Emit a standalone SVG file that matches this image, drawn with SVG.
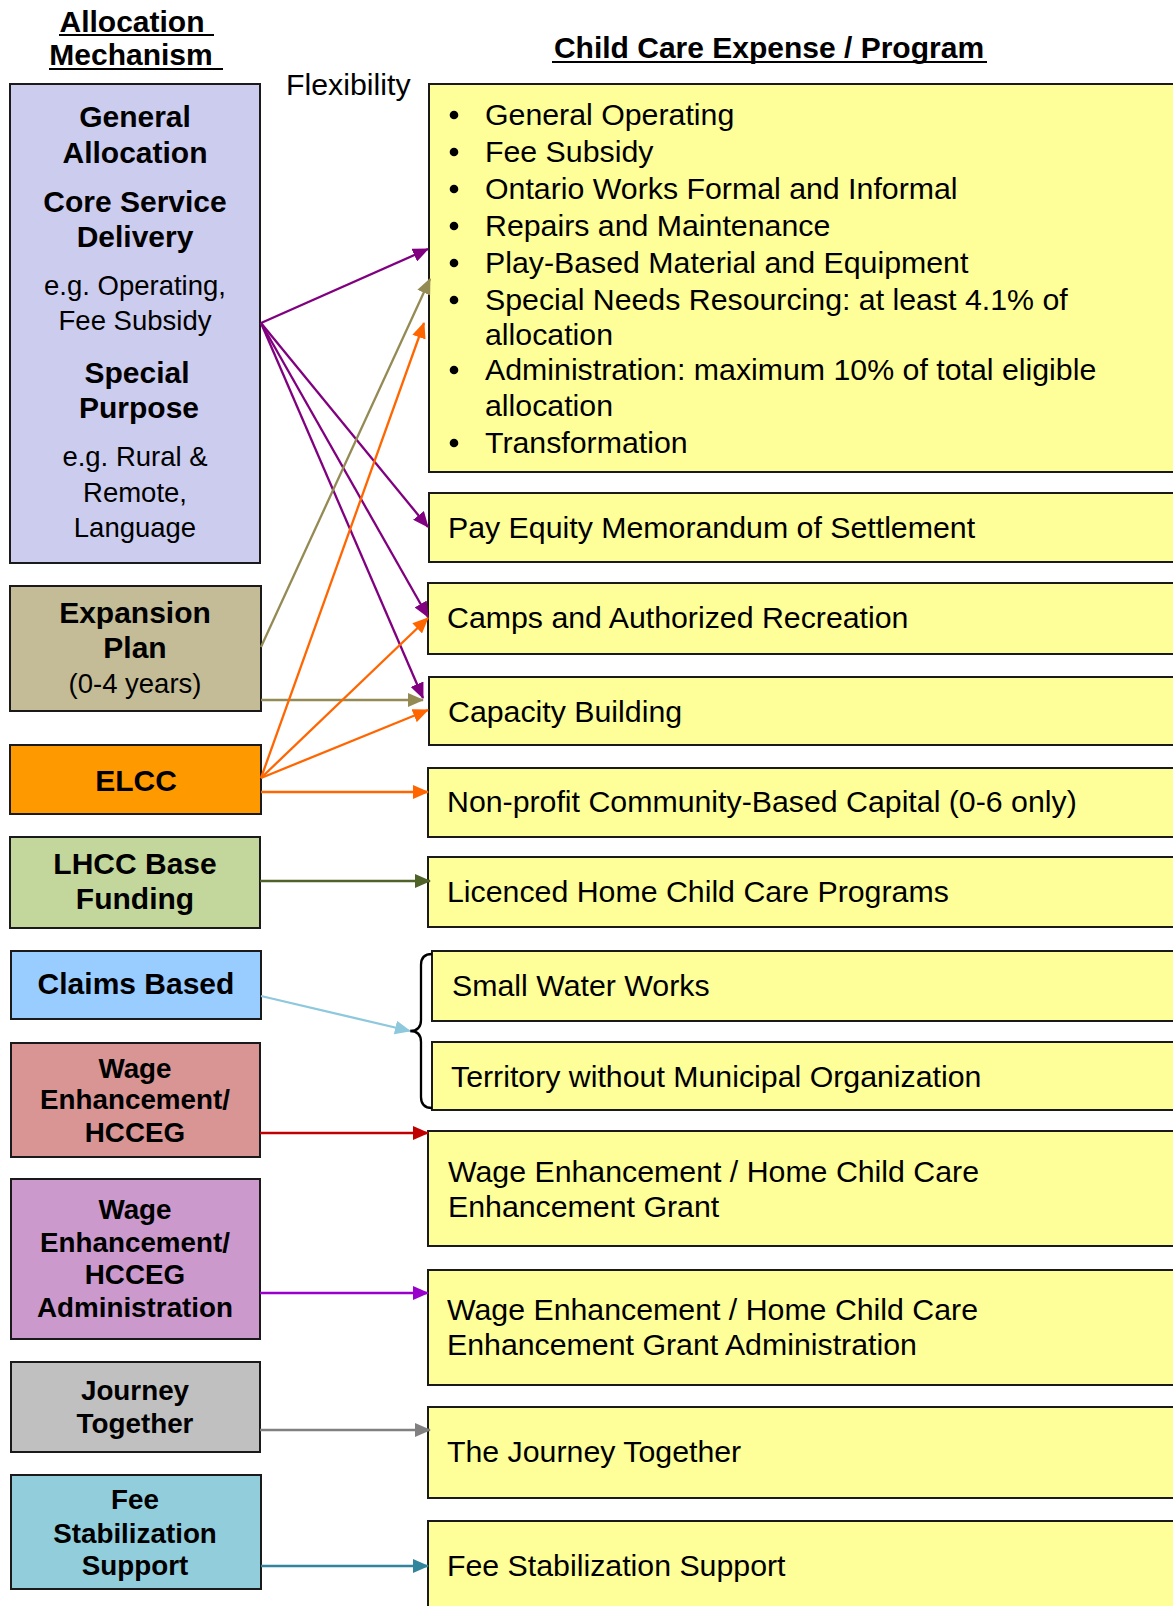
<svg xmlns="http://www.w3.org/2000/svg" width="1173" height="1606" viewBox="0 0 1173 1606">
<style>
.bg{fill:#ffffff}
.box{stroke:#1a1a1a;stroke-width:2}
.y{fill:#FFFF99}
.hd{font-family:"Liberation Sans",Arial,sans-serif;font-weight:bold;font-size:30px;fill:#000}
.b30{font-family:"Liberation Sans",Arial,sans-serif;font-weight:bold;font-size:30px;fill:#000;text-anchor:middle}
.b28{font-family:"Liberation Sans",Arial,sans-serif;font-weight:bold;font-size:27.8px;fill:#000;text-anchor:middle}
.r28{font-family:"Liberation Sans",Arial,sans-serif;font-size:27.5px;fill:#000;text-anchor:middle}
.r30{font-family:"Liberation Sans",Arial,sans-serif;font-size:30.3px;fill:#000}
.ln{fill:none;stroke-width:2.3}
.ul{stroke:#000;stroke-width:2}
</style>
<defs>
<marker id="aPur" markerUnits="userSpaceOnUse" markerWidth="16" markerHeight="14" refX="15" refY="7" orient="auto"><path d="M0,0 L16,7 L0,14 z" fill="#800080"/></marker>
<marker id="aOli" markerUnits="userSpaceOnUse" markerWidth="16" markerHeight="14" refX="15" refY="7" orient="auto"><path d="M0,0 L16,7 L0,14 z" fill="#948A54"/></marker>
<marker id="aOra" markerUnits="userSpaceOnUse" markerWidth="16" markerHeight="14" refX="15" refY="7" orient="auto"><path d="M0,0 L16,7 L0,14 z" fill="#FF6600"/></marker>
<marker id="aGrn" markerUnits="userSpaceOnUse" markerWidth="16" markerHeight="14" refX="15" refY="7" orient="auto"><path d="M0,0 L16,7 L0,14 z" fill="#4F6228"/></marker>
<marker id="aBlu" markerUnits="userSpaceOnUse" markerWidth="16" markerHeight="14" refX="15" refY="7" orient="auto"><path d="M0,0 L16,7 L0,14 z" fill="#8DC8DD"/></marker>
<marker id="aRed" markerUnits="userSpaceOnUse" markerWidth="16" markerHeight="14" refX="15" refY="7" orient="auto"><path d="M0,0 L16,7 L0,14 z" fill="#C00000"/></marker>
<marker id="aVio" markerUnits="userSpaceOnUse" markerWidth="16" markerHeight="14" refX="15" refY="7" orient="auto"><path d="M0,0 L16,7 L0,14 z" fill="#9900CC"/></marker>
<marker id="aGry" markerUnits="userSpaceOnUse" markerWidth="16" markerHeight="14" refX="15" refY="7" orient="auto"><path d="M0,0 L16,7 L0,14 z" fill="#808080"/></marker>
<marker id="aTea" markerUnits="userSpaceOnUse" markerWidth="16" markerHeight="14" refX="15" refY="7" orient="auto"><path d="M0,0 L16,7 L0,14 z" fill="#31859C"/></marker>
</defs>
<rect class="bg" x="0" y="0" width="1173" height="1606"/>

<g id="headings">
<text class="hd" x="132" y="32" text-anchor="middle">Allocation</text>
<line class="ul" x1="59" y1="35" x2="214" y2="35"/>
<text class="hd" x="131" y="65" text-anchor="middle">Mechanism</text>
<line class="ul" x1="49" y1="69" x2="223" y2="69"/>
<text class="hd" x="769" y="58" text-anchor="middle">Child Care Expense / Program</text>
<line class="ul" x1="552" y1="62" x2="987" y2="62"/>
<text class="r30" x="286" y="95" font-size="29.5">Flexibility</text>
</g>

<!-- Left column nodes -->
<g id="general-allocation">
<rect class="box" x="10" y="84" width="250" height="479" fill="#CCCCEE"/>
<text class="b30" x="135" y="127">General</text>
<text class="b30" x="135" y="163">Allocation</text>
<text class="b30" x="135" y="212">Core Service</text>
<text class="b30" x="135" y="247">Delivery</text>
<text class="r28" x="135" y="295">e.g. Operating,</text>
<text class="r28" x="135" y="330">Fee Subsidy</text>
<text class="b30" x="137" y="383">Special</text>
<text class="b30" x="139" y="418">Purpose</text>
<text class="r28" x="135" y="466">e.g. Rural &amp;</text>
<text class="r28" x="135" y="502">Remote,</text>
<text class="r28" x="135" y="537">Language</text>
</g>
<g id="expansion-plan">
<rect class="box" x="10" y="586" width="251" height="125" fill="#C4BC96"/>
<text class="b30" x="135" y="623">Expansion</text>
<text class="b30" x="135" y="658">Plan</text>
<text class="r28" x="135" y="693" font-size="29.5">(0-4 years)</text>
</g>
<g id="elcc">
<rect class="box" x="10" y="745" width="251" height="69" fill="#FF9900"/>
<text class="b30" x="136" y="791">ELCC</text>
</g>
<g id="lhcc">
<rect class="box" x="10" y="837" width="250" height="91" fill="#C3D69B"/>
<text class="b30" x="135" y="874">LHCC Base</text>
<text class="b30" x="135" y="909">Funding</text>
</g>
<g id="claims-based">
<rect class="box" x="11" y="951" width="250" height="68" fill="#99CCFF"/>
<text class="b30" x="136" y="994">Claims Based</text>
</g>
<g id="wage-enhancement">
<rect class="box" x="11" y="1043" width="249" height="114" fill="#D99594"/>
<text class="b28" x="135" y="1078">Wage</text>
<text class="b28" x="135" y="1109">Enhancement/</text>
<text class="b28" x="135" y="1142">HCCEG</text>
</g>
<g id="wage-enhancement-admin">
<rect class="box" x="11" y="1179" width="249" height="160" fill="#CC99CC"/>
<text class="b28" x="135" y="1219">Wage</text>
<text class="b28" x="135" y="1252">Enhancement/</text>
<text class="b28" x="135" y="1284">HCCEG</text>
<text class="b28" x="135" y="1317">Administration</text>
</g>
<g id="journey-together">
<rect class="box" x="11" y="1362" width="249" height="90" fill="#C0C0C0"/>
<text class="b28" x="135" y="1400">Journey</text>
<text class="b28" x="135" y="1433">Together</text>
</g>
<g id="fee-stabilization">
<rect class="box" x="11" y="1475" width="250" height="114" fill="#92CDDC"/>
<text class="b28" x="135" y="1509">Fee</text>
<text class="b28" x="135" y="1543">Stabilization</text>
<text class="b28" x="135" y="1575">Support</text>
</g>

<!-- Right column nodes -->
<g id="general-programs">
<rect class="box y" x="429" y="84" width="760" height="388"/>
<g fill="#000">
<circle cx="454" cy="115" r="4.3"/><circle cx="454" cy="152" r="4.3"/><circle cx="454" cy="189" r="4.3"/><circle cx="454" cy="226" r="4.3"/><circle cx="454" cy="263" r="4.3"/><circle cx="454" cy="300" r="4.3"/><circle cx="454" cy="370" r="4.3"/><circle cx="454" cy="443" r="4.3"/>
</g>
<text class="r30" x="485" y="125">General Operating</text>
<text class="r30" x="485" y="162">Fee Subsidy</text>
<text class="r30" x="485" y="199">Ontario Works Formal and Informal</text>
<text class="r30" x="485" y="236">Repairs and Maintenance</text>
<text class="r30" x="485" y="273">Play-Based Material and Equipment</text>
<text class="r30" x="485" y="310">Special Needs Resourcing: at least 4.1% of</text>
<text class="r30" x="485" y="345">allocation</text>
<text class="r30" x="485" y="380">Administration: maximum 10% of total eligible</text>
<text class="r30" x="485" y="416">allocation</text>
<text class="r30" x="485" y="453">Transformation</text>
</g>
<g id="pay-equity">
<rect class="box y" x="429" y="493" width="760" height="69"/>
<text class="r30" x="448" y="538">Pay Equity Memorandum of Settlement</text>
</g>
<g id="camps">
<rect class="box y" x="428" y="583" width="760" height="71"/>
<text class="r30" x="447" y="628">Camps and Authorized Recreation</text>
</g>
<g id="capacity-building">
<rect class="box y" x="429" y="677" width="760" height="68"/>
<text class="r30" x="448" y="722">Capacity Building</text>
</g>
<g id="non-profit-capital">
<rect class="box y" x="428" y="768" width="760" height="69"/>
<text class="r30" x="447" y="812">Non-profit Community-Based Capital (0-6 only)</text>
</g>
<g id="licenced-home">
<rect class="box y" x="428" y="857" width="760" height="70"/>
<text class="r30" x="447" y="902">Licenced Home Child Care Programs</text>
</g>
<g id="small-water-works">
<rect class="box y" x="432" y="951" width="760" height="70"/>
<text class="r30" x="452" y="996">Small Water Works</text>
</g>
<g id="territory">
<rect class="box y" x="432" y="1042" width="760" height="68"/>
<text class="r30" x="451" y="1087">Territory without Municipal Organization</text>
</g>
<g id="wage-grant">
<rect class="box y" x="428" y="1131" width="760" height="115"/>
<text class="r30" x="448" y="1182">Wage Enhancement / Home Child Care</text>
<text class="r30" x="448" y="1217">Enhancement Grant</text>
</g>
<g id="wage-grant-admin">
<rect class="box y" x="428" y="1270" width="760" height="115"/>
<text class="r30" x="447" y="1320">Wage Enhancement / Home Child Care</text>
<text class="r30" x="447" y="1355">Enhancement Grant Administration</text>
</g>
<g id="journey-program">
<rect class="box y" x="428" y="1407" width="760" height="91"/>
<text class="r30" x="447" y="1462">The Journey Together</text>
</g>
<g id="fee-program">
<rect class="box y" x="428" y="1521" width="760" height="100"/>
<text class="r30" x="447" y="1576">Fee Stabilization Support</text>
</g>

<!-- Connectors -->
<g id="connectors">
<path class="ln" stroke="#000" d="M432,954 Q421,954 421,965 L421,1020 Q421,1031 410,1031 Q421,1031 421,1042 L421,1097 Q421,1108 432,1108"/>
<g stroke="#800080" class="ln">
<line x1="261" y1="323" x2="428" y2="249" marker-end="url(#aPur)"/>
<line x1="261" y1="323" x2="428" y2="527" marker-end="url(#aPur)"/>
<line x1="261" y1="323" x2="428" y2="617" marker-end="url(#aPur)"/>
<line x1="261" y1="323" x2="423" y2="698" marker-end="url(#aPur)"/>
</g>
<g stroke="#948A54" class="ln">
<line x1="261" y1="647" x2="430" y2="279" marker-end="url(#aOli)"/>
<line x1="261" y1="700" x2="423" y2="700" marker-end="url(#aOli)"/>
</g>
<g stroke="#FF6600" class="ln">
<line x1="261" y1="778" x2="424" y2="323" marker-end="url(#aOra)"/>
<line x1="261" y1="778" x2="428" y2="618" marker-end="url(#aOra)"/>
<line x1="261" y1="778" x2="428" y2="710" marker-end="url(#aOra)"/>
<line x1="261" y1="792" x2="428" y2="792" marker-end="url(#aOra)"/>
</g>
<line class="ln" stroke="#4F6228" x1="260" y1="881" x2="430" y2="881" marker-end="url(#aGrn)"/>
<line class="ln" stroke="#8DC8DD" x1="261" y1="996" x2="410" y2="1031" marker-end="url(#aBlu)"/>
<line class="ln" stroke="#C00000" x1="260" y1="1133" x2="428" y2="1133" marker-end="url(#aRed)"/>
<line class="ln" stroke="#9900CC" x1="260" y1="1293" x2="428" y2="1293" marker-end="url(#aVio)"/>
<line class="ln" stroke="#808080" x1="260" y1="1430" x2="430" y2="1430" marker-end="url(#aGry)"/>
<line class="ln" stroke="#31859C" x1="261" y1="1566" x2="428" y2="1566" marker-end="url(#aTea)"/>
</g>
</svg>
